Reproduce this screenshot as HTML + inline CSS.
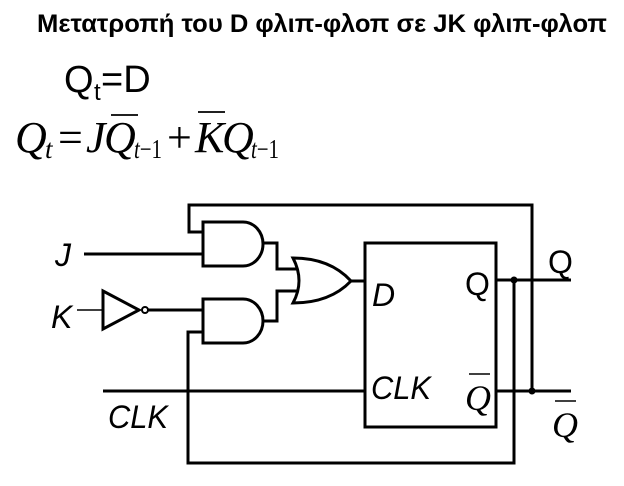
<!DOCTYPE html>
<html><head><meta charset="utf-8"><style>
html,body{margin:0;padding:0;background:#fff;}
svg{display:block;}
</style></head><body>
<svg width="624" height="486" viewBox="0 0 624 486" xmlns="http://www.w3.org/2000/svg">
<text x="37" y="32" textLength="570" lengthAdjust="spacingAndGlyphs" font-family="Liberation Sans, sans-serif" font-weight="bold" font-size="25">Μετατροπή του D φλιπ-φλοπ σε JK φλιπ-φλοπ</text>
<g font-family="Liberation Sans, sans-serif" font-size="38">
<text x="64" y="92">Q</text><text x="94" y="100" font-size="24">t</text><text x="101" y="92">=D</text>
</g>
<g font-family="Liberation Serif, serif" font-style="italic" font-size="44">
<text x="15" y="152">Q</text>
<text x="45" y="158" font-size="27">t</text>
<text x="58" y="152" font-style="normal">=</text>
<text x="86" y="152">J</text>
<text x="104" y="152">Q</text>
<text x="134" y="158" font-size="27" textLength="28" lengthAdjust="spacingAndGlyphs">t<tspan font-style="normal">−1</tspan></text>
<text x="167" y="152" font-style="normal">+</text>
<text x="195" y="152">K</text>
<text x="222" y="152">Q</text>
<text x="251" y="158" font-size="27" textLength="28" lengthAdjust="spacingAndGlyphs">t<tspan font-style="normal">−1</tspan></text>
</g>
<g stroke="#000" stroke-width="1.8">
<line x1="111" y1="115" x2="138" y2="115"/>
<line x1="198" y1="112" x2="225" y2="112"/>
</g>
<g fill="none" stroke="#000" stroke-width="3">
<polyline points="203,232 189,232 189,205 532,205 532,391"/>
<polyline points="203,332 188,332 188,463 514,463 514,280"/>
<line x1="84" y1="254" x2="203" y2="254"/>
<path d="M203,222 H243 A20,22 0 0 1 243,266 H203 Z"/>
<path d="M203,299 H243 A20,22 0 0 1 243,343 H203 Z"/>
<polyline points="262,243 277,243 277,269 297,269"/>
<polyline points="262,321 277,321 277,291 297,291"/>
<path d="M293,258 Q330,258 351,281 Q330,303 293,303 Q305,281 293,258 Z"/>
<line x1="351" y1="281" x2="365" y2="281"/>
<path d="M103,291 L139,310 L103,329 Z"/>
<line x1="148" y1="310" x2="203" y2="310"/>
<line x1="103" y1="391" x2="365" y2="391"/>
<rect x="365" y="243" width="131" height="184"/>
<line x1="496" y1="280" x2="571" y2="280"/>
<line x1="496" y1="391" x2="571" y2="391"/>
</g>
<line x1="77" y1="310" x2="103" y2="310" stroke="#000" stroke-width="1.5"/>
<circle cx="145" cy="310" r="3" fill="#fff" stroke="#000" stroke-width="2"/>
<circle cx="514" cy="280" r="3.5" fill="#000"/>
<circle cx="532" cy="391" r="3.5" fill="#000"/>
<g font-family="Liberation Sans, sans-serif" font-style="italic" font-size="32">
<text x="55" y="266">J</text>
<text x="51" y="328">K</text>
<text x="108" y="428" textLength="60" lengthAdjust="spacingAndGlyphs">CLK</text>
<text x="371" y="399" textLength="60" lengthAdjust="spacingAndGlyphs">CLK</text>
<text x="372" y="306">D</text>
</g>
<g font-family="Liberation Sans, sans-serif" font-size="32">
<text x="465" y="295">Q</text>
<text x="548" y="273">Q</text>
</g>
<g font-family="Liberation Serif, serif" font-style="italic" font-size="36">
<text x="465" y="410">Q</text>
<text x="552" y="437">Q</text>
</g>
<g stroke="#000" stroke-width="1.5">
<line x1="469" y1="374" x2="490" y2="374"/>
<line x1="555" y1="401" x2="576" y2="401"/>
</g>
</svg>
</body></html>
